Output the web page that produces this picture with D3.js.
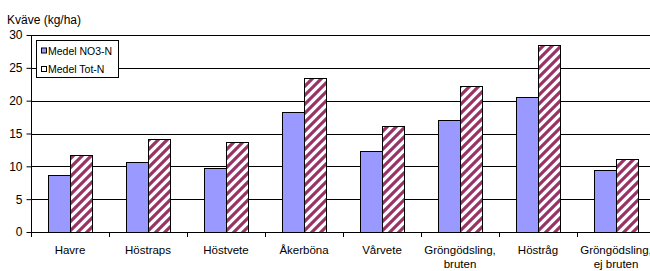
<!DOCTYPE html>
<html>
<head>
<meta charset="utf-8">
<script src="https://cdn.jsdelivr.net/npm/d3@7/dist/d3.min.js"></script>
<style>
  body { margin: 0; background: #fff; }
  svg { display: block; font-family: "Liberation Sans", Arial, sans-serif; }
</style>
</head>
<body>
<svg id="chart" width="650" height="271"></svg>
<script>
var categories = ['Havre', 'Höstraps', 'Höstvete', 'Åkerböna', 'Vårvete', 'Gröngödsling,\nbruten', 'Höstråg', 'Gröngödsling,\nej bruten'];
var seriesNames = ['Medel NO3-N', 'Medel Tot-N'];
var no3Values = [8.7, 10.6, 9.7, 18.3, 12.4, 17.0, 20.6, 9.4];
var totValues = [11.7, 14.2, 13.7, 23.5, 16.1, 22.3, 28.5, 11.1];
var yTicks = [0, 5, 10, 15, 20, 25, 30];

var svg = d3.select('#chart'),
    plotLeft = 31, plotRight = 655, plotTop = 35, plotBottom = 232;

// hatch pattern for Tot-N
var defs = svg.append('defs');
var pat = defs.append('pattern')
    .attr('id', 'hatch')
    .attr('patternUnits', 'userSpaceOnUse')
    .attr('width', 9)
    .attr('height', 9);
pat.append('rect').attr('width', 9).attr('height', 9).attr('fill', '#fff');
pat.append('path')
    .attr('d', 'M-2,2 L2,-2 M0,9 L9,0 M7,11 L11,7')
    .attr('stroke', '#993366')
    .attr('stroke-width', 3.2);

var fills = ['#9999ff', 'url(#hatch)'];

var x = d3.scaleBand().domain(d3.range(categories.length)).range([plotLeft, plotRight]).padding(0);
var xs = d3.scaleBand().domain([0, 1]).range([0, x.bandwidth()]).paddingInner(0).paddingOuter(0.75);
var y = d3.scaleLinear().domain([0, 30]).range([plotBottom, plotTop]);

// gridlines
svg.append('g')
    .selectAll('line')
    .data(yTicks.slice(1))
    .enter().append('line')
    .attr('x1', plotLeft).attr('x2', plotRight)
    .attr('y1', function (d) { return Math.round(y(d)) + 0.5; })
    .attr('y2', function (d) { return Math.round(y(d)) + 0.5; })
    .attr('stroke', '#000');

// bars
var data = categories.map(function (c, i) { return [no3Values[i], totValues[i]]; });
var groups = svg.selectAll('.grp')
    .data(data)
    .enter().append('g')
    .attr('class', 'grp')
    .attr('transform', function (d, i) { return 'translate(' + x(i) + ',0)'; });

groups.selectAll('rect')
    .data(function (d) { return d; })
    .enter().append('rect')
    .attr('x', function (d, j) { return Math.round(xs(j)) + 0.5; })
    .attr('y', function (d) { return Math.round(y(d)) + 0.5; })
    .attr('width', Math.round(xs.bandwidth()))
    .attr('height', function (d) { return Math.round(y(0)) - Math.round(y(d)); })
    .attr('fill', function (d, j) { return fills[j]; })
    .attr('stroke', '#000')
    .attr('stroke-width', 1);

// y axis
var yAxis = svg.append('g')
    .attr('transform', 'translate(' + (plotLeft + 0.5) + ',0)')
    .call(d3.axisLeft(y).tickValues(yTicks).tickSize(5).tickPadding(4).tickFormat(d3.format('d')));
yAxis.select('.domain').attr('d', 'M0,' + plotTop + 'V' + (plotBottom + 0.5));
yAxis.selectAll('.tick line').attr('stroke', '#000');
yAxis.selectAll('.tick text')
    .attr('font-size', 12)
    .attr('font-family', '"Liberation Sans", Arial, sans-serif')
    .attr('fill', '#000');

// x axis
var xAxisG = svg.append('g');
xAxisG.append('line')
    .attr('x1', plotLeft).attr('x2', plotRight)
    .attr('y1', plotBottom + 0.5).attr('y2', plotBottom + 0.5)
    .attr('stroke', '#000');
xAxisG.selectAll('.xt')
    .data(d3.range(categories.length + 1))
    .enter().append('line')
    .attr('x1', function (d) { return Math.round(plotLeft + d * x.step()) + 0.5; })
    .attr('x2', function (d) { return Math.round(plotLeft + d * x.step()) + 0.5; })
    .attr('y1', plotBottom).attr('y2', plotBottom + 5)
    .attr('stroke', '#000');

var labels = svg.selectAll('.xl')
    .data(categories)
    .enter().append('text')
    .attr('class', 'xl')
    .attr('text-anchor', 'middle')
    .attr('font-size', 11.5)
    .attr('fill', '#000')
    .attr('transform', function (d, i) { return 'translate(' + (x(i) + x.bandwidth() / 2) + ',254)'; });
labels.selectAll('tspan')
    .data(function (d) { return d.split('\n'); })
    .enter().append('tspan')
    .attr('x', 0)
    .attr('dy', function (d, i) { return i === 0 ? 0 : 14; })
    .text(function (d) { return d; });

// title
svg.append('text')
    .attr('x', 7)
    .attr('y', 24)
    .attr('font-size', 12)
    .attr('fill', '#000')
    .text('Kväve (kg/ha)');

// legend
var lg = svg.append('g');
lg.append('rect')
    .attr('x', 36.5).attr('y', 40.5)
    .attr('width', 82).attr('height', 37)
    .attr('fill', '#fff')
    .attr('stroke', '#000');
var items = lg.selectAll('.li')
    .data(seriesNames)
    .enter().append('g')
    .attr('transform', function (d, i) { return 'translate(0,' + (50.5 + i * 18.5) + ')'; });
items.append('rect')
    .attr('x', 41.5).attr('y', -2.5)
    .attr('width', 5).attr('height', 5)
    .attr('fill', function (d, i) { return i === 0 ? '#9999ff' : '#fff'; })
    .attr('stroke', '#000');
items.append('text')
    .attr('x', 48)
    .attr('y', 4)
    .attr('font-size', 10.5)
    .attr('fill', '#000')
    .text(function (d) { return d; });
</script>
</body>
</html>
